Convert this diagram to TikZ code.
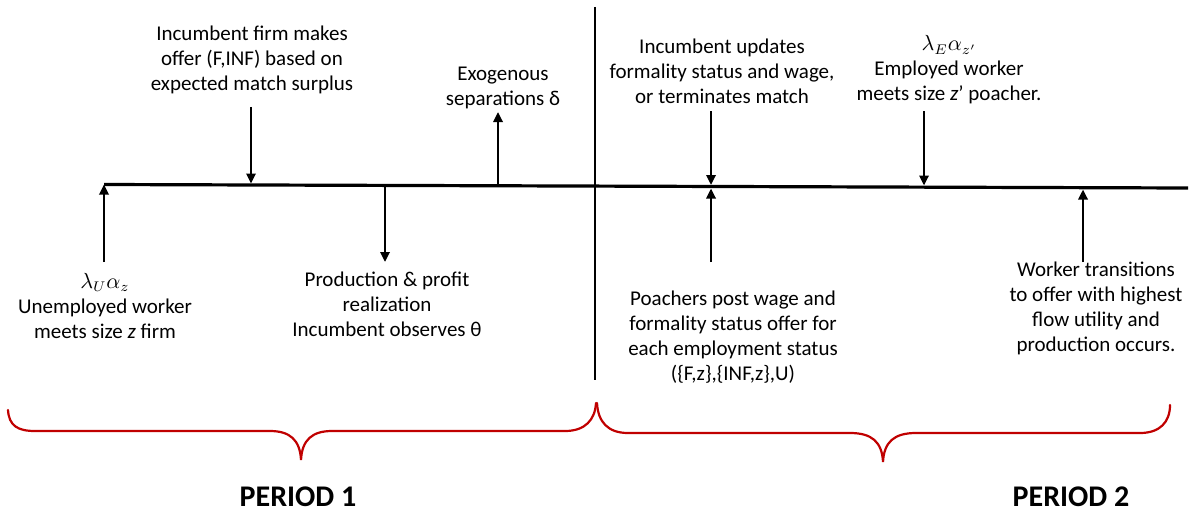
\documentclass[tikz,border=0pt]{standalone}
\usepackage{fontspec}
\setmainfont{Carlito}
\usepackage{xcolor}
\definecolor{Ink}{HTML}{000000}
\definecolor{Brace}{HTML}{C00000}
\usepackage{tikz}
\usetikzlibrary{arrows.meta,positioning,calc}
\tikzset{
  lbl/.style={align=center,text=Ink,font=\fontsize{10.5}{12.5}\selectfont,inner sep=0pt},
  evt/.style={-{Triangle[length=5pt,width=4.6pt]},line width=1.4pt,draw=Ink},
  axis/.style={line width=1.6pt,draw=Ink},
  divider/.style={line width=1.1pt,draw=Ink},
  brace/.style={line width=1.1pt,draw=Brace,line cap=round},
  period/.style={font=\fontsize{15}{17}\selectfont\bfseries,text=Ink,inner sep=0pt}
}

\begin{document}
\begin{tikzpicture}[x=0.5pt,y=-0.5pt]
\useasboundingbox (0,0) rectangle (1192,519);
% time line and the split between the periods
\coordinate (tl) at (104,184.5);
\coordinate (tr) at (1188,188);
\coordinate (dtop) at (595,7);
\coordinate (dbot) at (595,380);
\draw[axis] (tl)--(tr);
\draw[divider] (dtop)--(dbot);

% events of period 1
\coordinate (a1) at (104,262);   \coordinate (t1) at (104,184.5);
\coordinate (a2) at (251,107);   \coordinate (t2) at (251,183.5);
\coordinate (t3) at (385,186);   \coordinate (a3) at (385,262);
\coordinate (t4) at (498,185.5); \coordinate (a4) at (498,112);
\node[lbl] (meetU) at (105,306) {$\lambda_U\alpha_z$\\Unemployed worker\\meets size \textit{z} firm};
\node[lbl] (offer) at (252,60) {Incumbent firm makes\\offer (F,INF) based on\\expected match surplus};
\node[lbl] (prod) at (387,304) {Production \& profit\\realization\\Incumbent observes θ};
\node[lbl] (sep) at (503,88) {Exogenous\\separations δ};
\draw[evt] (a1)--(t1);
\draw[evt] (a2)--(t2);
\draw[evt] (t3)--(a3);
\draw[evt] (t4)--(a4);

% events of period 2
\coordinate (a5) at (711,111);   \coordinate (t5) at (711,185);
\coordinate (a6) at (711,262);   \coordinate (t6) at (711,188.5);
\coordinate (a7) at (924,111);   \coordinate (t7) at (924,185.5);
\coordinate (a8) at (1083,262);  \coordinate (t8) at (1083,189.5);
\node[lbl] (update) at (722,71) {Incumbent updates\\formality status and wage,\\or terminates match};
\node[lbl] (post) at (733,337) {Poachers post wage and\\formality status offer for\\each employment status\\(\{F,z\},\{INF,z\},U)};
\node[lbl] (meetE) at (949,70) {$\lambda_E\alpha_{z'}$\\Employed worker\\meets size \textit{z}' poacher.};
\node[lbl] (switch) at (1096,308) {Worker transitions\\to offer with highest\\flow utility and\\production occurs.};
\draw[evt] (a5)--(t5);
\draw[evt] (a6)--(t6);
\draw[evt] (a7)--(t7);
\draw[evt] (a8)--(t8);

% braces
\draw[brace] (8,410) .. controls (9,426) and (18,431) .. (35,431) -- (270,431)
  .. controls (290,431) and (300,440) .. (301,460)
  .. controls (302,440) and (312,431) .. (332,431) -- (565,431)
  .. controls (585,431) and (595,420) .. (596,403);
\draw[brace] (597,403) .. controls (598,422) and (608,433) .. (628,433) -- (850,433)
  .. controls (872,433) and (882,442) .. (883,462)
  .. controls (884,442) and (894,433) .. (916,433) -- (1140,433)
  .. controls (1160,433) and (1170,422) .. (1170,405);
\node[period] (p1) at (298,497) {PERIOD 1};
\node[period] (p2) at (1071,497) {PERIOD 2};
\end{tikzpicture}
\end{document}
